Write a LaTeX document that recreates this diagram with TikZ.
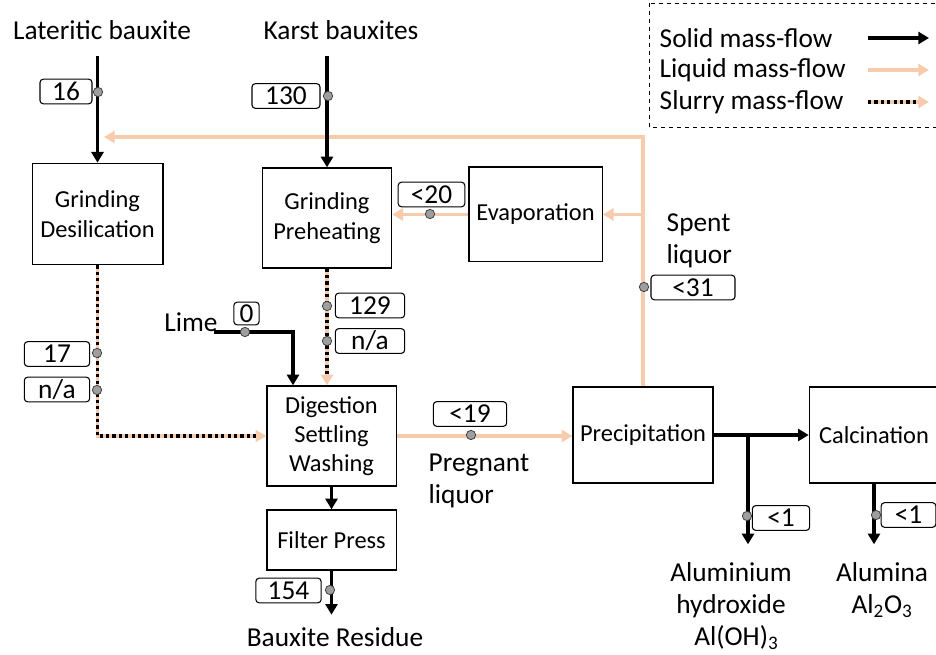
\documentclass[tikz,border=0pt]{standalone}
\usepackage{fontspec}
\setmainfont{Carlito}
\usetikzlibrary{positioning,arrows.meta}
\definecolor{liquidcol}{RGB}{248,203,173}

\begin{document}
\begin{tikzpicture}[x=0.75pt,y=-0.75pt,
        procbox/.style={draw, line width=1pt, align=center, inner sep=0pt, font=\fontsize{18.3}{22}\selectfont},
        flowtext/.style={align=center, font=\fontsize{20.5}{24}\selectfont},
        flowlabel/.style={draw, rounded corners=2.5pt, line width=0.8pt, inner sep=0pt, minimum height=18.5pt, font=\fontsize{20.5}{19}\selectfont},
        tap/.style={circle, draw=black!75, fill=black!38, line width=0.6pt, inner sep=0pt, minimum size=7pt},
        solidflow/.style={line width=2.3pt, -{Triangle[length=8pt,width=9pt]}},
        liquidflow/.style={line width=2.3pt, draw=liquidcol, -{Triangle[length=8pt,width=9pt]}},
        slurryflow/.style={line width=2.6pt, draw=liquidcol, -{Triangle[length=8pt,width=9pt]},
            postaction={draw=black, line width=2.6pt, dash pattern=on 2.4pt off 2.4pt, shorten >=8pt, -}}
        ]
        \useasboundingbox (0,0) rectangle (936,655);

        % process boxes
        \node[procbox, minimum width=98pt, minimum height=76pt] (grinddes) at (97.5,214)  {Grinding\\Desilication};
        \node[procbox, minimum width=97pt, minimum height=75pt] (grindpre) at (327,218)   {Grinding\\Preheating};
        \node[procbox, minimum width=100pt, minimum height=71pt] (evap)    at (535.5,214.5) {Evaporation};
        \node[procbox, minimum width=97pt, minimum height=75pt] (digest)   at (331.5,436) {Digestion\\Settling\\Washing};
        \node[procbox, minimum width=97pt, minimum height=45pt] (filter)   at (331.5,540) {Filter Press};
        \node[procbox, minimum width=105pt, minimum height=72pt] (precip)  at (643,435)   {Precipitation};
        \node[procbox, minimum width=97pt, minimum height=72pt] (calc)     at (874,435)   {Calcination};

        % inputs and outputs
        \node[flowtext] (lat)      at (102,30)  {Lateritic bauxite};
        \node[flowtext] (karst)    at (341,30)  {Karst bauxites};
        \node[flowtext] (lime)     at (191,322) {Lime};
        \node[flowtext, align=left, anchor=west] (spent)    at (662,241) {Spent\\liquor};
        \node[flowtext, align=left, anchor=west] (pregnant) at (424,481) {Pregnant\\liquor};
        \node[flowtext] (residue)  at (335,637) {Bauxite Residue};
        \node[flowtext] (alhydrox) at (731,606) {Aluminium\\hydroxide\\\hspace*{8pt}Al(OH)\textsubscript{3}};
        \node[flowtext] (alumina)  at (882,590) {Alumina\\Al\textsubscript{2}O\textsubscript{3}};

        \coordinate (feedin)   at (104,137);
        \coordinate (limein)   at (214,332);
        \coordinate (limedrop) at (293,332);
        \coordinate (branch)   at (748,435);

        % connectors
        \draw[liquidflow] (precip.north) -- (precip.north |- feedin) -- (feedin);
        \draw[liquidflow] (precip.north |- evap.east) -- (evap.east);
        \draw[liquidflow] (evap.west) -- (evap.west -| grindpre.east);
        \draw[solidflow, shorten <=9pt] (lat.south -| grinddes.north) -- (grinddes.north);
        \draw[solidflow, shorten <=9pt] (karst.south -| grindpre.north) -- (grindpre.north);
        \draw[slurryflow] (grinddes.south) |- (digest.west);
        \draw[slurryflow] (grindpre.south) -- (grindpre.south |- digest.north);
        \draw[solidflow] (limein) -- (limedrop) -- (limedrop |- digest.north);
        \draw[liquidflow] (digest.east) -- (digest.east -| precip.west);
        \draw[solidflow] (digest.south -| filter.north) -- (filter.north);
        \draw[solidflow, shorten >=6pt] (filter.south) -- (filter.south |- residue.north);
        \draw[solidflow] (precip.east) -- (calc.west);
        \draw[solidflow, shorten >=10pt] (branch) -- (branch |- alhydrox.north);
        \draw[solidflow, shorten >=10pt] (calc.south) -- (calc.south |- alumina.north);

        % flow values
        \node[flowlabel, minimum width=39pt] (l_lat)   at (66,91.5)   {16};
        \node[flowlabel, minimum width=51pt] (l_karst) at (286,96)    {130};
        \node[flowlabel, minimum width=50pt] (l_evap)  at (431.5,194.5) {<20};
        \node[flowlabel, minimum width=63pt] (l_spent) at (693,287.5) {<31};
        \node[flowlabel, minimum width=49pt] (l_des1)  at (57,354)    {17};
        \node[flowlabel, minimum width=49pt] (l_des2)  at (57,389.5)  {n/a};
        \node[flowlabel, minimum width=52pt] (l_pre1)  at (370,305.5) {129};
        \node[flowlabel, minimum width=52pt] (l_pre2)  at (370,341)   {n/a};
        \node[flowlabel, minimum width=19pt, minimum height=17pt] (l_lime) at (246.5,313.5) {0};
        \node[flowlabel, minimum width=55pt] (l_preg)  at (470,414)   {<19};
        \node[flowlabel, minimum width=49pt] (l_res)   at (288.5,590.5) {154};
        \node[flowlabel, minimum width=43pt] (l_hyd)   at (781,518)   {<1};
        \node[flowlabel, minimum width=41pt] (l_alu)   at (908.5,515) {<1};

        % sample points
        \node[tap] (t_lat)   at (98,92)   {};
        \node[tap] (t_karst) at (328,96)  {};
        \node[tap] (t_evap)  at (430,214) {};
        \node[tap] (t_spent) at (644,287) {};
        \node[tap] (t_des1)  at (97,353)  {};
        \node[tap] (t_des2)  at (97,390)  {};
        \node[tap] (t_pre1)  at (327,306) {};
        \node[tap] (t_pre2)  at (327,341) {};
        \node[tap] (t_lime)  at (245,332) {};
        \node[tap] (t_preg)  at (471,435) {};
        \node[tap] (t_res)   at (330,590) {};
        \node[tap] (t_hyd)   at (747,516) {};
        \node[tap] (t_alu)   at (876,515) {};

        % legend
        \draw[dashed, line width=0.7pt] (649,3) rectangle (940,127);
        \node[flowtext, anchor=west] (legsolid)  at (655,38)  {Solid mass-flow};
        \node[flowtext, anchor=west] (legliquid) at (655,70)  {Liquid mass-flow};
        \node[flowtext, anchor=west] (legslurry) at (655,102) {Slurry mass-flow};
        \coordinate (legarrow) at (868,0);
        \draw[solidflow]  (legsolid -| legarrow)  -- ++(61,0);
        \draw[liquidflow] (legliquid -| legarrow) -- ++(61,0);
        \draw[slurryflow] (legslurry -| legarrow) -- ++(61,0);
    \end{tikzpicture}
\end{document}
